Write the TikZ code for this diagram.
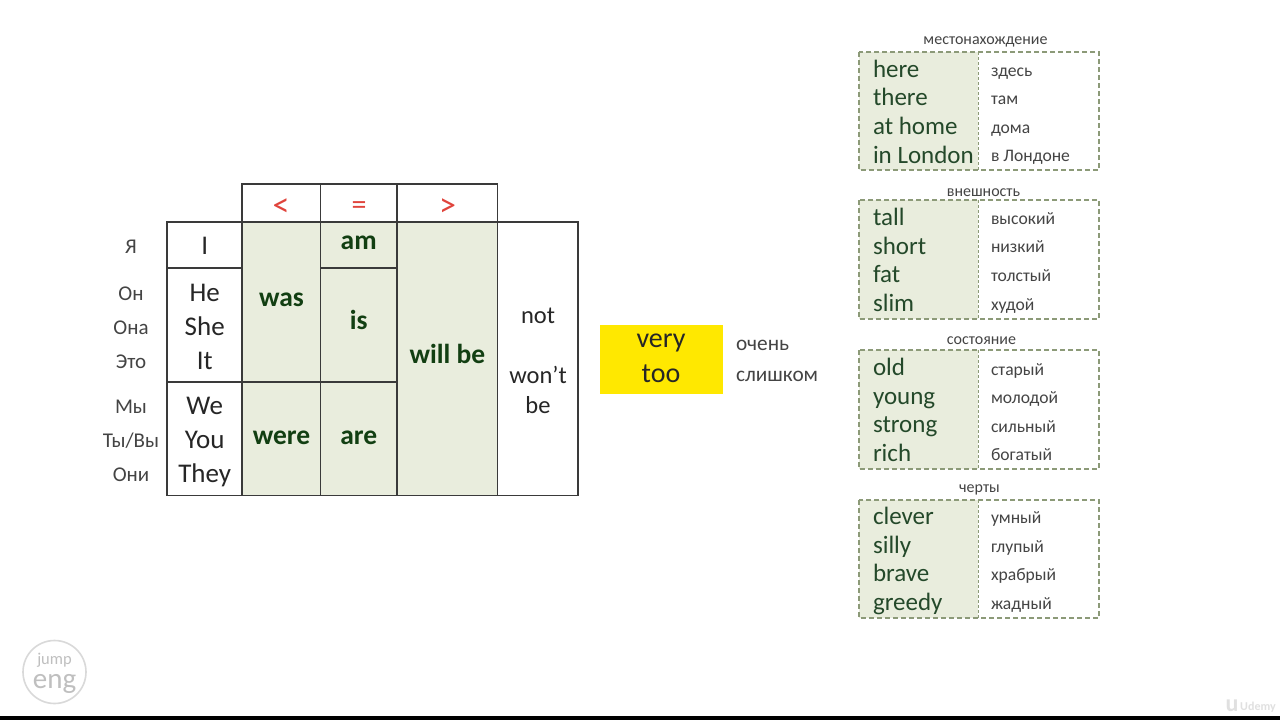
\documentclass[tikz,border=0pt]{standalone}
\usepackage{fontspec}
\setmainfont{Carlito}
\definecolor{cellfill}{HTML}{E9EDDD}
\definecolor{deepgreen}{HTML}{123F12}
\definecolor{paneltext}{HTML}{24492A}
\definecolor{rustext}{HTML}{444444}
\definecolor{linecol}{HTML}{3A3A3A}
\definecolor{dashcol}{HTML}{8C9A78}
\definecolor{redsign}{HTML}{E0443C}
\definecolor{yellowbox}{HTML}{FFE800}
\newcommand{\panelrow}[6]{%
  \node[engpanel] (#1e#5) at (873,#2) {#3};
  \node[ruspanel] (#1r#5) at (991,#6+0.7) {#4};
}
\newcommand{\panelbox}[6]{%
  \fill[cellfill] (859,#2) rectangle (978,#3);
  \draw[panelline] (859,#2) rectangle (1099,#3);
  \draw[panelmid] (978,#2) -- (978,#3);
  \node[panelhead] (#1) at (#5,#6) {#4};
}
\begin{document}
\begin{tikzpicture}[x=1pt,y=-1pt,
  base/.style={anchor=base,inner sep=0pt,outer sep=0pt},
  pron/.style={base,font=\fontsize{27}{27}\selectfont,text=black!85},
  verb/.style={base,font=\fontsize{27.5}{27.5}\selectfont\bfseries,text=deepgreen},
  neg/.style={base,font=\fontsize{24.5}{24.5}\selectfont,text=black!85},
  rupron/.style={base,font=\fontsize{21}{21}\selectfont,text=rustext},
  sign/.style={inner sep=0pt,font=\fontsize{34}{34}\selectfont,text=redsign},
  engpanel/.style={base,anchor=base west,font=\fontsize{25}{25}\selectfont,text=paneltext},
  ruspanel/.style={base,anchor=base west,font=\fontsize{17.6}{17.6}\selectfont,text=rustext},
  panelhead/.style={base,font=\fontsize{16}{16}\selectfont,text=rustext},
  panelline/.style={draw=dashcol,line width=1.4pt,dash pattern=on 5pt off 3pt},
  panelmid/.style={draw=dashcol,line width=1pt,dash pattern=on 2.5pt off 2.5pt},
  grid/.style={draw=linecol,line width=1.3pt},
]
\useasboundingbox (0,0) rectangle (1280,720);
\fill[white] (0,0) rectangle (1280,720);
\fill[black] (0,716) rectangle (1280,720);

% table fills
\fill[cellfill] (242,222) rectangle (497.7,495.5);
% table lines
\draw[grid] (167,222) rectangle (578,495.5);
\draw[grid] (242,184) rectangle (497.7,222);
\draw[grid] (320.7,184) -- (320.7,495.5);
\draw[grid] (397,184) -- (397,495.5);
\draw[grid] (242,222) -- (242,495.5);
\draw[grid] (497.7,222) -- (497.7,495.5);
\draw[grid] (167,268) -- (242,268);
\draw[grid] (320.7,268) -- (397,268);
\draw[grid] (167,382) -- (397,382);

% signs
\node[sign] (lt) at (281,207.5) {<};
\node[sign,font=\fontsize{30}{30}\selectfont] (eq) at (359,208) {=};
\node[sign] (gt) at (447.5,207.5) {>};

% russian pronouns
\node[rupron] (ya) at (131,253.5) {Я};
\node[rupron] (on) at (131,300.5) {Он};
\node[rupron] (ona) at (131,334) {Она};
\node[rupron] (eto) at (131,368) {Это};
\node[rupron] (my) at (131,413.5) {Мы};
\node[rupron] (ty) at (131,447) {Ты/Вы};
\node[rupron] (oni) at (131,481) {Они};

% english pronouns
\node[pron] (i) at (204.7,254.5) {I};
\node[pron] (he) at (204.7,301) {He};
\node[pron] (she) at (204.7,335) {She};
\node[pron] (it) at (204.7,369) {It};
\node[pron] (we) at (204.7,414.5) {We};
\node[pron] (you) at (204.7,448) {You};
\node[pron] (they) at (204.7,482) {They};

% verbs
\node[verb] (was) at (281.5,306) {was};
\node[verb] (were) at (281.5,444.5) {were};
\node[verb] (am) at (358.7,249.5) {am};
\node[verb] (is) at (358.7,329.5) {is};
\node[verb] (are) at (358.7,444.5) {are};
\node[verb] (willbe) at (447.5,363) {will be};
\node[neg] (not) at (538,323) {not};
\node[neg] (wont) at (538,383) {won’t};
\node[neg] (be) at (538,413) {be};

% very / too
\fill[yellowbox] (600,325) rectangle (723,394);
\node[base,font=\fontsize{28}{28}\selectfont,text=black!85] (very) at (661,347.5) {very};
\node[base,font=\fontsize{28}{28}\selectfont,text=black!85] (too) at (661,382.5) {too};
\node[base,anchor=base west,font=\fontsize{21.3}{21.3}\selectfont,text=rustext] (ochen) at (736,350) {очень};
\node[base,anchor=base west,font=\fontsize{21.3}{21.3}\selectfont,text=rustext] (slishkom) at (736,381.5) {слишком};

% panel 1
\panelbox{mesto}{52}{170}{местонахождение}{985.5}{44.5}{}
\panelrow{a}{77}{here}{здесь}{1}{76}
\panelrow{a}{105.5}{there}{там}{2}{104}
\panelrow{a}{134}{at home}{дома}{3}{133}
\panelrow{a}{163}{in London}{в Лондоне}{4}{161}
% panel 2
\panelbox{vnesh}{200}{319}{внешность}{983.5}{196}{}
\panelrow{b}{225}{tall}{высокий}{1}{224}
\panelrow{b}{254}{short}{низкий}{2}{252}
\panelrow{b}{282}{fat}{толстый}{3}{281}
\panelrow{b}{311}{slim}{худой}{4}{309.5}
% panel 3
\panelbox{sost}{350}{469}{состояние}{981.5}{344.5}{}
\panelrow{c}{375.5}{old}{старый}{1}{375}
\panelrow{c}{404.5}{young}{молодой}{2}{403}
\panelrow{c}{432.5}{strong}{сильный}{3}{432}
\panelrow{c}{461.5}{rich}{богатый}{4}{460}
% panel 4
\panelbox{cherty}{500}{618}{черты}{979.5}{492.5}{}
\panelrow{d}{524.5}{clever}{умный}{1}{523}
\panelrow{d}{553.5}{silly}{глупый}{2}{551.5}
\panelrow{d}{581.5}{brave}{храбрый}{3}{580}
\panelrow{d}{610.5}{greedy}{жадный}{4}{608.5}

% logo
\draw[black!15,line width=1.6pt] (54.5,672) circle (31.5);
\node[base,font=\fontsize{16.5}{16.5}\selectfont,text=black!25] (jump) at (54.5,664) {jump};
\node[base,font=\fontsize{29}{29}\selectfont,text=black!25] (eng) at (54.5,688) {eng};
% watermark
\node[base,font=\fontsize{12}{12}\selectfont\bfseries,text=black!12] (udemy) at (1258,710) {Udemy};
\node[base,font=\fontsize{24}{24}\selectfont\bfseries,text=black!12] (ulogo) at (1232,711) {u};
\end{tikzpicture}
\end{document}
